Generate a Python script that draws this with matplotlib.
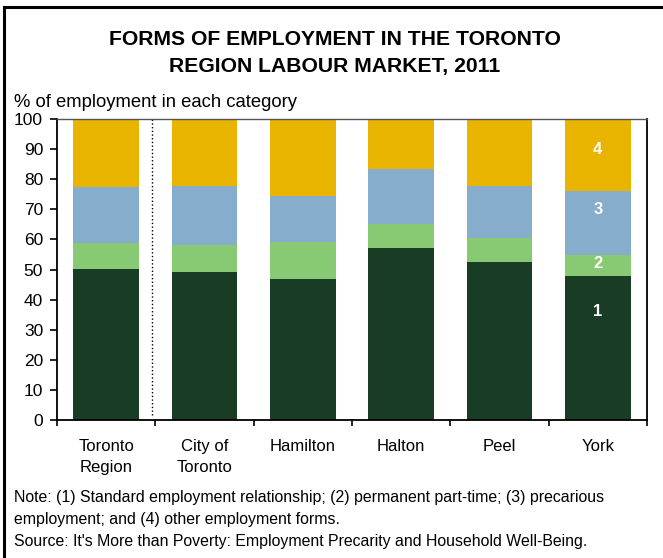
import matplotlib.pyplot as plt
from matplotlib.lines import Line2D
import numpy as np

plt.rcParams['font.family'] = ['Liberation Sans', 'DejaVu Sans']

regions = ["Toronto\nRegion", "City of\nToronto", "Hamilton", "Halton", "Peel", "York"]
# cumulative tops of each band, read as % of employment
top_standard = [50.2, 49.2, 46.8, 57.3, 52.5, 47.8]
top_parttime = [58.7, 58.1, 59.1, 65.1, 60.6, 54.7]
top_precarious = [77.3, 77.7, 74.4, 83.3, 77.7, 76.0]
top_other = [100, 100, 100, 100, 100, 100]

standard = np.array(top_standard)
parttime = np.array(top_parttime) - standard
precarious = np.array(top_precarious) - np.array(top_parttime)
other = np.array(top_other) - np.array(top_precarious)

series = [standard, parttime, precarious, other]
colors = ["#183D24", "#88CA73", "#87ADCD", "#E8B400"]
band_labels = ["1", "2", "3", "4"]
label_y = [36, 52, 70, 90]

W, H = 663, 558
fig = plt.figure(figsize=(W / 100, H / 100), dpi=100)
ax = fig.add_axes([57 / W, 1 - 420 / H, 590 / W, 301 / H])

x = np.arange(len(regions))
bottom = np.zeros(len(regions))
for vals, c in zip(series, colors):
    ax.bar(x, vals, width=0.67, bottom=bottom, color=c, linewidth=0)
    bottom += vals

for lab, yy in zip(band_labels, label_y):
    ax.text(x[-1], yy, lab, color="white", fontsize=12, fontweight="bold",
            ha="center", va="center")

# dotted separator between the region total and its parts
ax.axvline(0.47, ymin=0.017, ymax=1, color="black", linestyle=":", linewidth=1)

ax.set_xlim(-0.5, len(regions) - 0.5)
ax.set_ylim(0, 100)
ax.set_yticks(np.arange(0, 101, 10))
ax.set_xticks(np.arange(-0.5, len(regions), 1))
ax.set_xticklabels([])
ax.set_xticks(x, minor=True)
ax.set_xticklabels(regions, minor=True, fontsize=12, linespacing=1.5)
ax.tick_params(axis="x", which="minor", length=0, pad=14)
ax.tick_params(axis="x", which="major", direction="out", length=4.5, width=1.2)
ax.tick_params(axis="y", direction="out", length=5, width=1.2, labelsize=12.5, pad=5)
for s in ax.spines.values():
    s.set_linewidth(1.3)
    s.set_color("black")
ax.spines["top"].set_color("#555555")
ax.spines["top"].set_linewidth(1)

fig.text(335 / W, 1 - 45 / H, "FORMS OF EMPLOYMENT IN THE TORONTO",
         ha="center", va="baseline", fontsize=15.2, fontweight="bold")
fig.text(335 / W, 1 - 72 / H, "REGION LABOUR MARKET, 2011",
         ha="center", va="baseline", fontsize=15.2, fontweight="bold")
fig.text(14 / W, 1 - 107 / H, "% of employment in each category",
         ha="left", va="baseline", fontsize=13.3)

notes = ["Note: (1) Standard employment relationship; (2) permanent part-time; (3) precarious",
         "employment; and (4) other employment forms.",
         "Source: It's More than Poverty: Employment Precarity and Household Well-Being."]
for i, line in enumerate(notes):
    fig.text(14 / W, 1 - (502 + 22 * i) / H, line, ha="left", va="baseline", fontsize=11.4)

# outer frame on the top and left edges
fig.add_artist(Line2D([4 / W, 1], [1 - 7 / H, 1 - 7 / H], color="black", linewidth=2.2))
fig.add_artist(Line2D([4 / W, 4 / W], [0, 1 - 7 / H], color="black", linewidth=2.2))

fig.savefig("out.png", dpi=100)
